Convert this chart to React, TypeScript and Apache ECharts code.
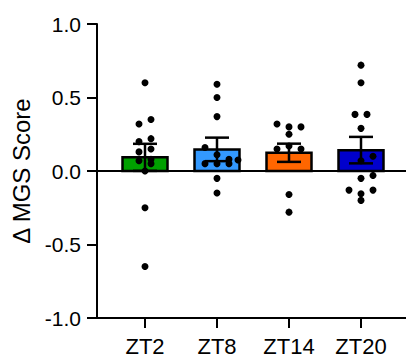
import React, { useEffect, useRef } from "react";
import * as echarts from "echarts";

const categories = ["ZT2", "ZT8", "ZT14", "ZT20"];
const barColors = ["#00A000", "#3399FF", "#FF6600", "#0000CC"];
const barMeans = [0.093, 0.147, 0.124, 0.142];
const barSEM = [0.092, 0.08, 0.062, 0.09];
const yTicks = [-1.0, -0.5, 0.0, 0.5, 1.0];

// individual animals per group, with horizontal jitter slot (one slot ~ 6px)
const zt2Values = [0.6, 0.35, 0.32, 0.22, 0.2, 0.15, 0.13, 0.08, 0.07, 0.05, 0.0, -0.25, -0.65];
const zt2Jitter = [0, 1, -1, 1, -1, 1, -1, 1, -1, 1, 0, 0, 0];
const zt8Values = [0.59, 0.5, 0.37, 0.16, 0.11, 0.08, 0.075, 0.05, 0.05, 0.05, -0.05, -0.15];
const zt8Jitter = [0, 0, 0, -2, 0, 2, 3.5, -2, 0, 2, 0, 0];
const zt14Values = [0.32, 0.3, 0.3, 0.25, 0.17, 0.15, 0.15, -0.16, -0.28];
const zt14Jitter = [-2, 0, 2, 0, 0, -2, 2, 0, 0];
const zt20Values = [0.72, 0.6, 0.385, 0.385, 0.29, 0.1, 0.07, -0.03, -0.05, -0.13, -0.13, -0.155, -0.2];
const zt20Jitter = [0, 0, -1, 1, 0, 2, 0, 2, 0, -2, 2, 0, 0];

const groups = [
  { values: zt2Values, jitter: zt2Jitter },
  { values: zt8Values, jitter: zt8Jitter },
  { values: zt14Values, jitter: zt14Jitter },
  { values: zt20Values, jitter: zt20Jitter },
];

const X_MIN = 1 / 3;
const X_MAX = 4.625;
const SLOT = 6 / 72;
const FONT = "Arial, 'Liberation Sans', Helvetica, sans-serif";

export default function App() {
  const ref = useRef<HTMLDivElement>(null);
  useEffect(() => {
    if (!ref.current) return;
    const chart = echarts.init(ref.current, undefined, { renderer: "svg" });
    const barData = categories.map((_, i) => [i + 1, barMeans[i], barSEM[i]]);
    const dotData: number[][] = [];
    groups.forEach((g, gi) => {
      g.values.forEach((v, k) => {
        dotData.push([gi + 1 + g.jitter[k] * SLOT, v]);
      });
    });
    chart.setOption({
      animation: false,
      grid: { left: 97, right: 0, top: 24, bottom: 37.5 },
      xAxis: [
        {
          type: "value",
          min: X_MIN,
          max: X_MAX,
          position: "bottom",
          axisLine: { onZero: false, lineStyle: { color: "#000", width: 2 } },
          axisTick: { show: true, length: 10, lineStyle: { color: "#000", width: 2 }, customValues: [1, 2, 3, 4] },
          axisLabel: {
            customValues: [1, 2, 3, 4],
            margin: 17,
            color: "#000",
            fontSize: 22,
            fontFamily: FONT,
            formatter: (v: number) => categories[Math.round(v) - 1] ?? "",
          },
          splitLine: { show: false },
        },
        {
          type: "value",
          min: X_MIN,
          max: X_MAX,
          position: "top",
          axisLine: { onZero: true, lineStyle: { color: "#000", width: 2 } },
          axisTick: { show: false },
          axisLabel: { show: false },
          splitLine: { show: false },
        },
      ],
      yAxis: {
        type: "value",
        min: -1,
        max: 1,
        interval: 0.5,
        name: "Δ MGS Score",
        nameLocation: "middle",
        nameGap: 62,
        nameTextStyle: { color: "#000", fontSize: 24, fontFamily: FONT },
        axisLine: { show: true, onZero: false, lineStyle: { color: "#000", width: 2 } },
        axisTick: { show: true, length: 10, lineStyle: { color: "#000", width: 2 } },
        axisLabel: {
          margin: 16,
          color: "#000",
          fontSize: 21,
          fontFamily: FONT,
          formatter: (v: number) => (yTicks.includes(v) ? v.toFixed(1) : ""),
        },
        splitLine: { show: false },
      },
      series: [
        {
          type: "custom",
          xAxisIndex: 0,
          z: 2,
          data: barData,
          encode: { x: 0, y: 1 },
          renderItem: (params: any, api: any) => {
            const x = api.value(0);
            const mean = api.value(1);
            const sem = api.value(2);
            const top = api.coord([x, mean]);
            const base = api.coord([x, 0]);
            const hi = api.coord([x, mean + sem]);
            const lo = api.coord([x, mean - sem]);
            const w = 45;
            const cap = 12;
            const ls = { stroke: "#000", lineWidth: 2.5 };
            return {
              type: "group",
              children: [
                {
                  type: "rect",
                  shape: { x: top[0] - w / 2, y: top[1], width: w, height: base[1] - top[1] },
                  style: { fill: barColors[params.dataIndex], stroke: "#000", lineWidth: 2.5 },
                },
                { type: "line", shape: { x1: hi[0], y1: hi[1], x2: lo[0], y2: lo[1] }, style: ls },
                { type: "line", shape: { x1: hi[0] - cap, y1: hi[1], x2: hi[0] + cap, y2: hi[1] }, style: ls },
                { type: "line", shape: { x1: lo[0] - cap, y1: lo[1], x2: lo[0] + cap, y2: lo[1] }, style: ls },
              ],
            };
          },
        },
        {
          type: "scatter",
          xAxisIndex: 0,
          z: 3,
          symbol: "circle",
          symbolSize: 7,
          itemStyle: { color: "#000", opacity: 1 },
          data: dotData,
        },
      ],
    });
    return () => chart.dispose();
  }, []);
  return (
    <div
      ref={ref}
      style={{ position: "absolute", left: 0, top: 0, width: 406, height: 357, background: "#fff" }}
    />
  );
}
